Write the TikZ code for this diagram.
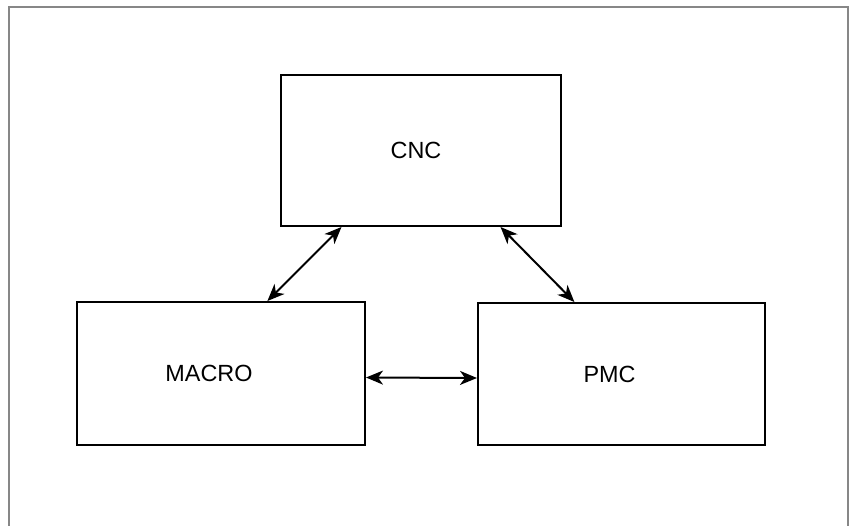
\documentclass[tikz,border=0pt]{standalone}
\usepackage{fontspec}
\setmainfont{Liberation Sans}
\usepackage{tikz}
\usetikzlibrary{calc,arrows.meta,positioning}

\begin{document}
\begin{tikzpicture}[x=0.5pt,y=-0.5pt,>={Stealth[length=8.5pt,width=7pt,inset=2.5pt]},line width=1pt,
  unitbox/.style={draw=black,line width=1pt,inner sep=0pt,font=\fontsize{11.7}{14}\selectfont},
  link/.style={<->,line width=1pt}]
  \useasboundingbox (0,0) rectangle (850,525);
  % Frame (open at the bottom)
  \draw[line width=1pt,draw=black!47] (9,530) -- (9,7) -- (848,7) -- (848,530);

  % Units
  \node[unitbox,minimum width=140pt,minimum height=75.5pt,label={[xshift=-2.5pt,font=\fontsize{11.7}{14}\selectfont]center:CNC}] (cnc) at (421,150.5) {};
  \node[unitbox,minimum width=144pt,minimum height=71.5pt,label={[xshift=-6pt,font=\fontsize{11.7}{14}\selectfont]center:MACRO}] (macro) at (221,373.5) {};
  \node[unitbox,minimum width=143.5pt,minimum height=71pt,label={[xshift=-6pt,font=\fontsize{11.7}{14}\selectfont]center:PMC}] (pmc) at (621.5,374) {};

  % Connection points
  \coordinate (cncL) at ($(cnc.south west)!0.218!(cnc.south east)$);
  \coordinate (cncR) at ($(cnc.south west)!0.782!(cnc.south east)$);
  \coordinate (macroT) at ($(macro.north west)!0.66!(macro.north east)$);
  \coordinate (pmcT) at ($(pmc.north west)!0.337!(pmc.north east)$);

  % Links
  \draw[link] (cncL) -- (macroT);
  \draw[link] (cncR) -- (pmcT);
  \draw[link] ([yshift=-2pt]macro.east) -- ([yshift=-2pt]pmc.west);
\end{tikzpicture}
\end{document}
